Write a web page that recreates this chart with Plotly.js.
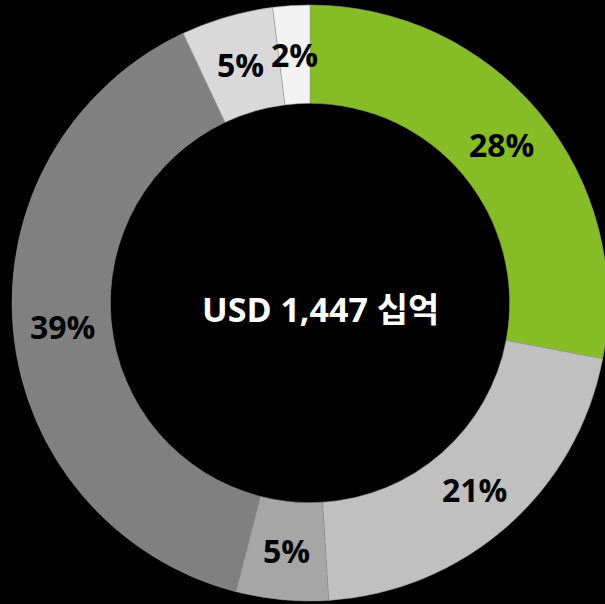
<!DOCTYPE html>
<html>
<head>
<meta charset="utf-8">
<script src="https://cdn.plot.ly/plotly-3.0.1.min.js"></script>
<style>
html,body{margin:0;padding:0;background:#000;overflow:hidden;width:605px;height:604px;}
#chart{width:620px;height:604px;}
</style>
</head>
<body>
<div id="chart"></div>
<script>
const categories = ["Segment 1", "Segment 2", "Segment 3", "Segment 4", "Segment 5", "Segment 6"];
const shares = [28, 21, 5, 39, 5, 2];
const sliceColors = ["#86bc25", "#c0c0c0", "#a6a6a6", "#808080", "#d9d9d9", "#f2f2f2"];
const centerLabel = "USD 1,447 십억";

const W = 620, H = 604;
const cx = 310, cy = 303, R = 298, hole = 0.67;
const domain = {x: [(cx - R) / W, (cx + R) / W], y: [1 - (cy + R) / H, 1 - (cy - R) / H]};

const total = shares.reduce((a, b) => a + b, 0);
const annotations = [];
let cum = 0;
const rMid = R * (1 + hole) / 2;
shares.forEach((v) => {
  const mid = (cum + v / 2) / total * 2 * Math.PI;
  cum += v;
  const px = cx + rMid * Math.sin(mid);
  const py = cy - rMid * Math.cos(mid);
  annotations.push({
    x: px / W, y: 1 - py / H, xref: "paper", yref: "paper",
    text: "<b>" + v + "%</b>", showarrow: false,
    font: {family: "Open Sans, sans-serif", size: 32, color: "#000"},
    xanchor: "center", yanchor: "middle"
  });
});
annotations.push({
  x: 320 / W, y: 1 - 309 / H, xref: "paper", yref: "paper",
  text: "<b>" + centerLabel + "</b>", showarrow: false,
  font: {family: "Open Sans, 'Noto Sans CJK KR', sans-serif", size: 34, color: "#fff"},
  xanchor: "center", yanchor: "middle"
});

Plotly.newPlot("chart", [{
  type: "pie",
  labels: categories,
  values: shares,
  sort: false,
  direction: "clockwise",
  rotation: 0,
  hole: hole,
  domain: domain,
  textinfo: "none",
  hoverinfo: "label+percent",
  marker: {colors: sliceColors, line: {color: "#999999", width: 0.5}}
}], {
  width: W, height: H,
  margin: {l: 0, r: 0, t: 0, b: 0},
  paper_bgcolor: "#000",
  plot_bgcolor: "#000",
  showlegend: false,
  annotations: annotations
}, {displayModeBar: false, staticPlot: true});
</script>
</body>
</html>
